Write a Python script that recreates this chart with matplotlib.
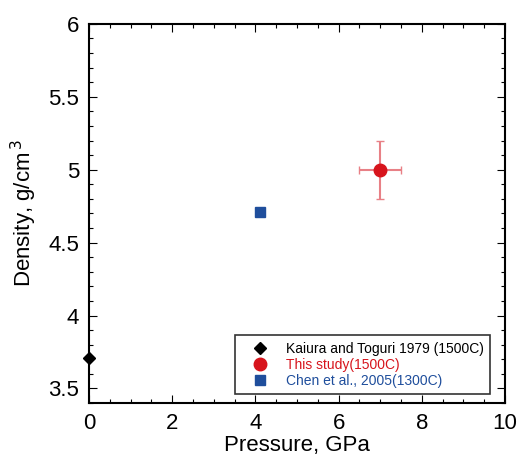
import matplotlib
matplotlib.use("Agg")
import matplotlib.pyplot as plt
from matplotlib.ticker import MultipleLocator

plt.rcParams["font.family"] = ["Liberation Sans", "DejaVu Sans"]

# Data
kaiura_p = [0.0]
kaiura_rho = [3.71]

this_p = [7.0]
this_rho = [5.0]
this_perr = [0.5]
this_rhoerr = [0.2]

chen_p = [4.1]
chen_rho = [4.71]

labels = ["Kaiura and Toguri 1979 (1500C)", "This study(1500C)", "Chen et al., 2005(1300C)"]
colors = ["black", "#d7141c", "#1f4e9c"]

fig = plt.figure(figsize=(5.18, 4.58), dpi=100)
ax = fig.add_axes([0.172, 0.12, 0.803, 0.828])

h1, = ax.plot(kaiura_p, kaiura_rho, "D", color=colors[0], markersize=6,
              clip_on=False, zorder=5)
h2 = ax.errorbar(this_p, this_rho, xerr=this_perr, yerr=this_rhoerr, fmt="o",
                 color=colors[1], ecolor="#e88086", elinewidth=1.5, capsize=3,
                 markersize=9, zorder=4)
h3, = ax.plot(chen_p, chen_rho, "s", color=colors[2], markersize=7, zorder=4)

ax.set_xlim(0, 10)
ax.set_ylim(3.4, 6)
ax.xaxis.set_major_locator(MultipleLocator(2))
ax.xaxis.set_minor_locator(MultipleLocator(0.5))
ax.yaxis.set_major_locator(MultipleLocator(0.5))
ax.yaxis.set_minor_locator(MultipleLocator(0.1))
ax.yaxis.set_major_formatter(plt.FuncFormatter(lambda v, p: f"{v:g}"))
ax.tick_params(which="both", direction="in", top=True, right=True,
               labelsize=16, width=0.8)
ax.tick_params(which="major", length=6, pad=7)
ax.tick_params(which="minor", length=3)
for s in ax.spines.values():
    s.set_linewidth(1.5)

ax.set_xlabel("Pressure, GPa", fontsize=16, labelpad=1)
ax.set_ylabel("Density, g/cm$^{\\,3}$", fontsize=16, labelpad=7)

leg = ax.legend([h1, h2[0], h3], labels, loc="lower right", fontsize=10,
                frameon=True, fancybox=False, edgecolor="black",
                handletextpad=0.6, handlelength=2.6, borderpad=0.45,
                labelspacing=0.15, borderaxespad=0,
                bbox_to_anchor=(0.964, 0.024), numpoints=1)
leg.get_frame().set_linewidth(1.2)
for t, c in zip(leg.get_texts(), colors):
    t.set_color(c)

fig.savefig("out.png", dpi=100)
